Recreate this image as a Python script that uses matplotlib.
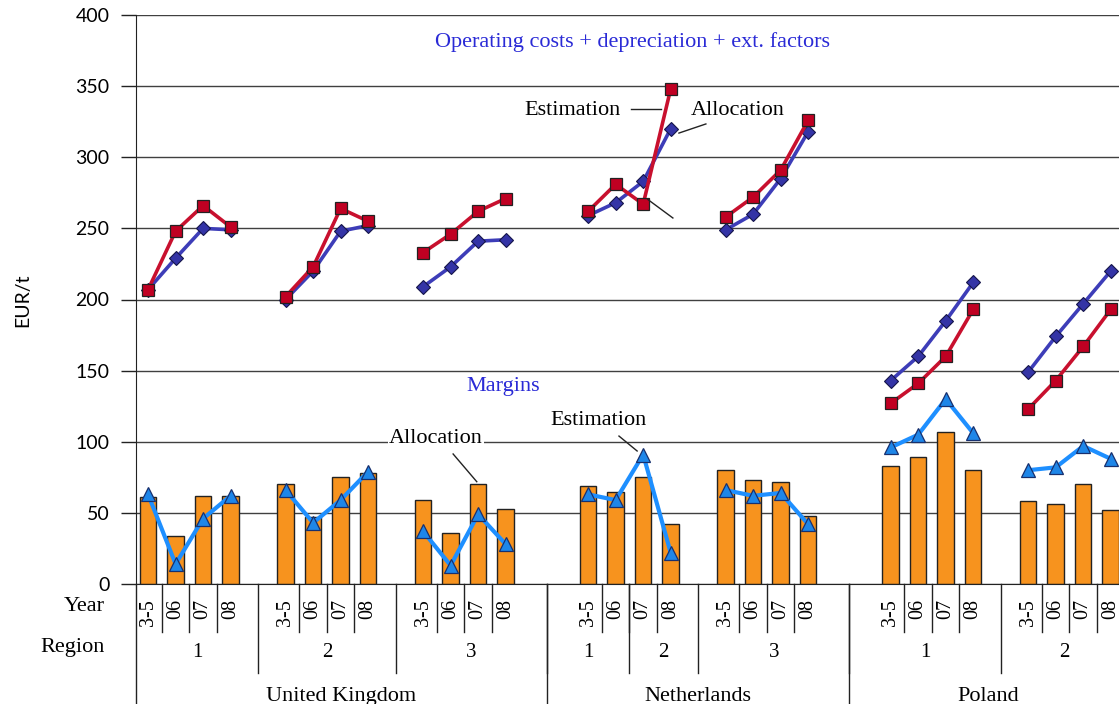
import matplotlib
matplotlib.use("Agg")
import matplotlib.pyplot as plt
import matplotlib.transforms as mtransforms
import numpy as np

# categories
years = ["3-5", "06", "07", "08"]
countries = ["United Kingdom", "Netherlands", "Poland"]
region_labels = ["1", "2", "3", "1", "2", "3", "1", "2"]

# slot index of each point, one list per connected line segment
segment_slots = [[0, 1, 2, 3], [5, 6, 7, 8], [10, 11, 12, 13],
                 [16, 17, 18, 19], [21, 22, 23, 24],
                 [27, 28, 29, 30], [32, 33, 34, 35]]

# operating costs + depreciation + ext. factors (EUR/t)
cost_estimation = [[207, 248, 266, 251], [202, 223, 264, 255], [233, 246, 262, 271],
                   [262, 281, 267, 348], [258, 272, 291, 326],
                   [127, 141, 160, 193], [123, 143, 167, 193]]
cost_allocation = [[207, 229, 250, 249], [200, 220, 248, 252], [209, 223, 241, 242],
                   [259, 268, 283, 320], [249, 260, 285, 318],
                   [143, 160, 185, 212], [149, 174, 197, 220]]

# margins (EUR/t)
margin_estimation = [[63, 14, 46, 62], [66, 43, 59, 79], [37, 13, 49, 28],
                     [63, 59, 91, 22], [66, 62, 64, 42],
                     [96, 105, 130, 106], [80, 82, 97, 88]]
margin_allocation = [[61, 34, 62, 62], [70, 47, 75, 78], [59, 36, 70, 53],
                     [69, 65, 75, 42], [80, 73, 72, 48],
                     [83, 89, 107, 80], [58, 56, 70, 52]]

# table cell edges in slot units
x_left, x_right = -0.44, 35.3
country_edges = [x_left, 14.5, 25.5, 35.6]
region_edges = [x_left, 4, 9, 14.5, 17.5, 20, 25.5, 31, 35.6]

serif = ["Liberation Serif", "DejaVu Serif"]
sans = ["Lato", "DejaVu Sans"]
txt_blue = "#2A2AD6"
fs_note = 16

fig = plt.figure(figsize=(11.19, 7.04), dpi=100)
ax = fig.add_axes([136 / 1119, 1 - 584 / 704, 1 - 136 / 1119, 569 / 704])

for slots, est, alloc, m_est, m_alloc in zip(segment_slots, cost_estimation, cost_allocation,
                                              margin_estimation, margin_allocation):
    ax.bar(slots, m_alloc, width=0.6, color="#F7931E", edgecolor="#222222",
           linewidth=1, zorder=2)
    ax.plot(slots, alloc, color="#3D3DB8", lw=2.6, marker="D", ms=7,
            mfc="#3434A6", mec="#15154a", mew=0.8, zorder=3)
    ax.plot(slots, est, color="#C8102E", lw=2.6, marker="s", ms=8,
            mfc="#C00022", mec="#222222", mew=0.9, zorder=4)
    ax.plot(slots, m_est, color="#1E8FFF", lw=3, marker="^", ms=10,
            mfc="#1E86E8", mec="#18306e", mew=0.9, zorder=5)

ax.set_xlim(x_left, x_right)
ax.set_ylim(0, 400)
ax.set_yticks(np.arange(0, 401, 50))
ax.set_xticks([])
ax.grid(axis="y", color="#404040", lw=1, zorder=0)
ax.set_axisbelow(True)
for s in ["top", "right"]:
    ax.spines[s].set_visible(False)
ax.spines["left"].set_color("#222222")
ax.spines["bottom"].set_color("#222222")
ax.tick_params(axis="y", direction="out", length=11, width=1, pad=8,
               labelsize=14, color="#222222")
for lab in ax.get_yticklabels():
    lab.set_fontfamily(sans)

fig.text(23 / 1119, 1 - 300 / 704, "EUR/t", rotation=90, ha="center", va="center",
         fontsize=14, family=sans)

# annotations
ax.text(17.6, 381, "Operating costs + depreciation + ext. factors", color=txt_blue,
        ha="center", va="center", fontsize=fs_note, family=serif)
ax.text(12.9, 138.5, "Margins", color=txt_blue, ha="center", va="center",
        fontsize=fs_note, family=serif)
ax.text(15.43, 333, "Estimation", ha="center", va="center", fontsize=fs_note, family=serif)
ax.plot([17.56, 18.65], [334, 334], color="#222222", lw=1, zorder=6)
ax.text(21.43, 333, "Allocation", ha="center", va="center", fontsize=fs_note, family=serif)
ax.plot([19.3, 20.28], [317, 323.4], color="#222222", lw=1, zorder=6)
ax.plot([18.17, 19.08], [270.3, 257.3], color="#222222", lw=1, zorder=6)
ax.text(10.47, 102.6, "Allocation", ha="center", va="center", fontsize=fs_note, family=serif,
        bbox=dict(facecolor="white", edgecolor="none", pad=1), zorder=6)
ax.plot([11.09, 11.95], [91.4, 71.9], color="#222222", lw=1, zorder=6)
ax.text(16.39, 114.6, "Estimation", ha="center", va="center", fontsize=fs_note, family=serif)
ax.plot([17.12, 17.78], [104, 93.5], color="#222222", lw=1, zorder=6)

# category table below the axis
trans = mtransforms.blended_transform_factory(ax.transData, ax.transAxes)
line_kw = dict(color="#222222", lw=1, transform=trans, clip_on=False)
for slots in segment_slots:
    for i, s in enumerate(slots):
        ax.text(s, -0.027, years[i], rotation=90, ha="center", va="top",
                fontsize=14.5, family=serif, transform=trans, clip_on=False)
        if i < len(slots) - 1:
            ax.plot([s + 0.5, s + 0.5], [0, -0.0844], **line_kw)
for i, lab in enumerate(region_labels):
    ax.text((region_edges[i] + region_edges[i + 1]) / 2, -0.121, lab, ha="center",
            va="center", fontsize=15, family=serif, transform=trans, clip_on=False)
for e in region_edges[1:-1]:
    ax.plot([e, e], [0, -0.156], **line_kw)
for i, lab in enumerate(countries):
    ax.text((country_edges[i] + country_edges[i + 1]) / 2, -0.197, lab, ha="center",
            va="center", fontsize=fs_note, family=serif, transform=trans, clip_on=False)
for e in country_edges[:-1]:
    ax.plot([e, e], [0, -0.22], **line_kw)

ax.text(-0.0315, -0.04, "Year", ha="right", va="center", fontsize=fs_note, family=serif,
        transform=ax.transAxes)
ax.text(-0.0315, -0.112, "Region", ha="right", va="center", fontsize=fs_note, family=serif,
        transform=ax.transAxes)

fig.savefig("out.png", dpi=100)
